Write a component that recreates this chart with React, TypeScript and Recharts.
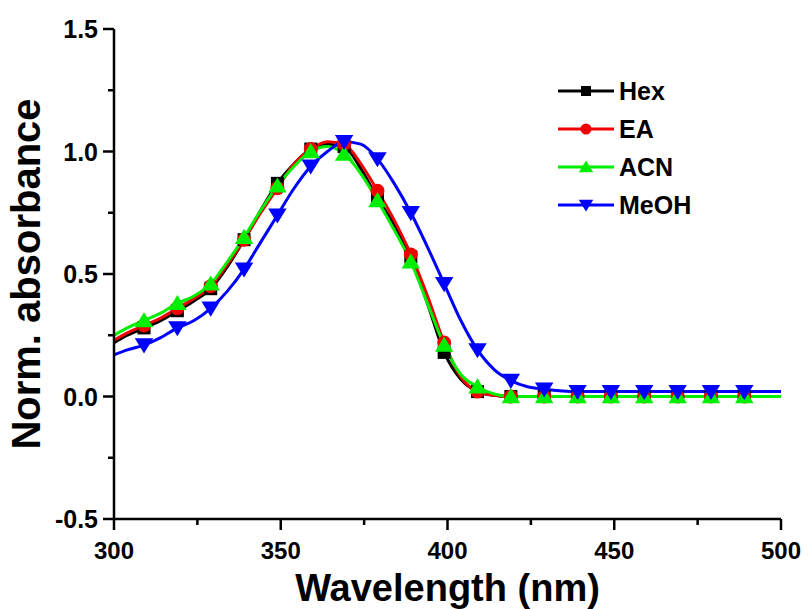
import React from 'react';
import { ComposedChart, Line, XAxis, YAxis, Legend } from 'recharts';

const wavelengths = [300, 304, 309, 314, 319, 324, 329, 334, 339, 344, 349, 354, 359, 364, 369, 374, 379, 384, 389, 394, 399, 404, 409, 414, 419, 424, 429, 439, 449, 459, 469, 479, 489, 500];
const hex = [0.22, 0.25, 0.28, 0.31, 0.35, 0.39, 0.44, 0.53, 0.64, 0.76, 0.87, 0.95, 1.01, 1.03, 1.02, 0.93, 0.81, 0.70, 0.57, 0.38, 0.18, 0.07, 0.02, 0.005, 0, 0, 0, 0, 0, 0, 0, 0, 0, 0];
const ea = [0.23, 0.26, 0.29, 0.32, 0.36, 0.40, 0.45, 0.54, 0.64, 0.75, 0.85, 0.95, 1.01, 1.04, 1.03, 0.95, 0.84, 0.72, 0.58, 0.41, 0.22, 0.08, 0.02, 0.005, 0, 0, 0, 0, 0, 0, 0, 0, 0, 0];
const acn = [0.25, 0.28, 0.31, 0.34, 0.38, 0.41, 0.46, 0.55, 0.65, 0.76, 0.86, 0.94, 1.0, 1.02, 0.99, 0.91, 0.80, 0.68, 0.55, 0.38, 0.21, 0.09, 0.04, 0.01, 0, 0, 0, 0, 0, 0, 0, 0, 0, 0];
const meoh = [0.17, 0.19, 0.21, 0.24, 0.28, 0.31, 0.36, 0.43, 0.52, 0.63, 0.74, 0.85, 0.94, 1.0, 1.04, 1.03, 0.97, 0.87, 0.75, 0.61, 0.46, 0.31, 0.19, 0.11, 0.065, 0.04, 0.03, 0.02, 0.02, 0.02, 0.02, 0.02, 0.02, 0.02];
const markerWavelengths = [309, 319, 329, 339, 349, 359, 369, 379, 389, 399, 409, 419, 429, 439, 449, 459, 469, 479, 489];

const xTicks = [300, 325, 350, 375, 400, 425, 450, 475, 500];
const xLabels = [300, 350, 400, 450, 500];
const yTicks = [-0.5, -0.25, 0, 0.25, 0.5, 0.75, 1.0, 1.25, 1.5];
const yLabels = [-0.5, 0, 0.5, 1.0, 1.5];

const seriesNames = ['Hex', 'EA', 'ACN', 'MeOH'];
const seriesKeys = ['hex', 'ea', 'acn', 'meoh'];
const seriesColors = ['#000000', '#f00000', '#00ee00', '#0000ff'];
const seriesShapes = ['square', 'circle', 'triangle', 'triangleDown'];

const data = wavelengths.map((w, i) => ({ wl: w, hex: hex[i], ea: ea[i], acn: acn[i], meoh: meoh[i] }));

const FONT = '"Liberation Sans", Arial, sans-serif';

function Marker({ shape, cx, cy, color, s = 7 }: { shape: string; cx: number; cy: number; color: string; s?: number }) {
  if (shape === 'square') return <rect x={cx - s + 0.5} y={cy - s + 0.5} width={2 * s - 1} height={2 * s - 1} fill={color} />;
  if (shape === 'circle') return <circle cx={cx} cy={cy} r={s} fill={color} />;
  const h = s * 1.2;
  if (shape === 'triangle') {
    return <polygon points={`${cx},${cy - h} ${cx + h * 1.1},${cy + h * 0.8} ${cx - h * 1.1},${cy + h * 0.8}`} fill={color} />;
  }
  return <polygon points={`${cx},${cy + h} ${cx + h * 1.1},${cy - h * 0.8} ${cx - h * 1.1},${cy - h * 0.8}`} fill={color} />;
}

const makeDot = (idx: number) => (props: any) => {
  const { cx, cy, payload, index } = props;
  if (!markerWavelengths.includes(payload.wl) || cx == null || cy == null) return <g key={`d${idx}-${index}`} />;
  return (
    <g key={`d${idx}-${index}`}>
      <Marker shape={seriesShapes[idx]} cx={cx} cy={cy} color={seriesColors[idx]} />
    </g>
  );
};

const XTick = (props: any) => {
  const { x, y, payload } = props;
  const major = xLabels.includes(payload.value);
  return (
    <g>
      <line x1={x} x2={x} y1={y} y2={y + (major ? 11 : 6)} stroke="#000" strokeWidth={2.5} />
      {major && (
        <text x={x} y={y + 40} textAnchor="middle" fontFamily={FONT} fontWeight="bold" fontSize={24} fill="#000">
          {payload.value}
        </text>
      )}
    </g>
  );
};

const YTick = (props: any) => {
  const { x, y, payload } = props;
  const major = yLabels.some((v) => Math.abs(v - payload.value) < 1e-9);
  return (
    <g>
      <line x1={x} x2={x - (major ? 11 : 6)} y1={y} y2={y} stroke="#000" strokeWidth={2.5} />
      {major && (
        <text x={x - 16} y={y + 9} textAnchor="end" fontFamily={FONT} fontWeight="bold" fontSize={25} fill="#000">
          {payload.value.toFixed(1)}
        </text>
      )}
    </g>
  );
};

const LegendContent = () => (
  <div style={{ fontFamily: FONT }}>
    {seriesNames.map((n, i) => (
      <div key={n} style={{ display: 'flex', alignItems: 'center', height: 38 }}>
        <svg width={62} height={24} style={{ display: 'block' }}>
          <line x1={3} x2={59} y1={12} y2={12} stroke={seriesColors[i]} strokeWidth={3} />
          <Marker shape={seriesShapes[i]} cx={31} cy={12} color={seriesColors[i]} s={5.5} />
        </svg>
        <span style={{ fontSize: 25, fontWeight: 'bold', color: '#000', marginLeft: 2, lineHeight: '24px' }}>{n}</span>
      </div>
    ))}
  </div>
);

export default function App() {
  return (
    <div style={{ position: 'absolute', left: 0, top: 0, width: 810, height: 609, background: '#fff' }}>
      <ComposedChart width={810} height={609} data={data} margin={{ top: 29, right: 29, bottom: 0, left: 0 }}>
        <XAxis
          xAxisId="b"
          dataKey="wl"
          type="number"
          domain={[300, 500]}
          ticks={xTicks}
          interval={0}
          height={90}
          tickSize={0}
          tickMargin={0}
          tickLine={false}
          axisLine={{ stroke: '#000', strokeWidth: 2.5 }}
          tick={<XTick />}
          allowDataOverflow
          label={{
            content: (p: any) => {
              const vb = p.viewBox;
              return (
                <text x={vb.x + vb.width / 2} y={vb.y + 82} textAnchor="middle" fontFamily={FONT} fontWeight="bold" fontSize={38} fill="#000">
                  Wavelength (nm)
                </text>
              );
            },
          }}
        />
        <XAxis xAxisId="t" dataKey="wl" type="number" domain={[300, 500]} orientation="top" height={0} tick={false} tickLine={false} axisLine={{ stroke: '#000', strokeWidth: 2.5 }} />
        <YAxis
          yAxisId="l"
          type="number"
          domain={[-0.5, 1.5]}
          ticks={yTicks}
          interval={0}
          width={114}
          tickSize={0}
          tickMargin={0}
          tickLine={false}
          axisLine={{ stroke: '#000', strokeWidth: 2.5 }}
          tick={<YTick />}
          allowDataOverflow
          label={{
            content: (p: any) => {
              const vb = p.viewBox;
              const cx = 40;
              const cy = vb.y + vb.height / 2;
              return (
                <text x={cx} y={cy} transform={`rotate(-90 ${cx} ${cy})`} textAnchor="middle" fontFamily={FONT} fontWeight="bold" fontSize={40} fill="#000">
                  Norm. absorbance
                </text>
              );
            },
          }}
        />
        <YAxis yAxisId="r" orientation="right" type="number" domain={[-0.5, 1.5]} width={0} tick={false} tickLine={false} axisLine={{ stroke: '#000', strokeWidth: 2.5 }} />
        <Legend
          layout="vertical"
          align="center"
          verticalAlign="middle"
          content={<LegendContent />}
          wrapperStyle={{ position: 'absolute', left: 555, top: 72, width: 200 }}
        />
        {seriesKeys.map((k, i) => (
          <Line
            key={k}
            xAxisId="b"
            yAxisId="l"
            type="monotone"
            dataKey={k}
            name={seriesNames[i]}
            stroke={seriesColors[i]}
            strokeWidth={3}
            dot={makeDot(i)}
            activeDot={false}
            isAnimationActive={false}
          />
        ))}
      </ComposedChart>
    </div>
  );
}
